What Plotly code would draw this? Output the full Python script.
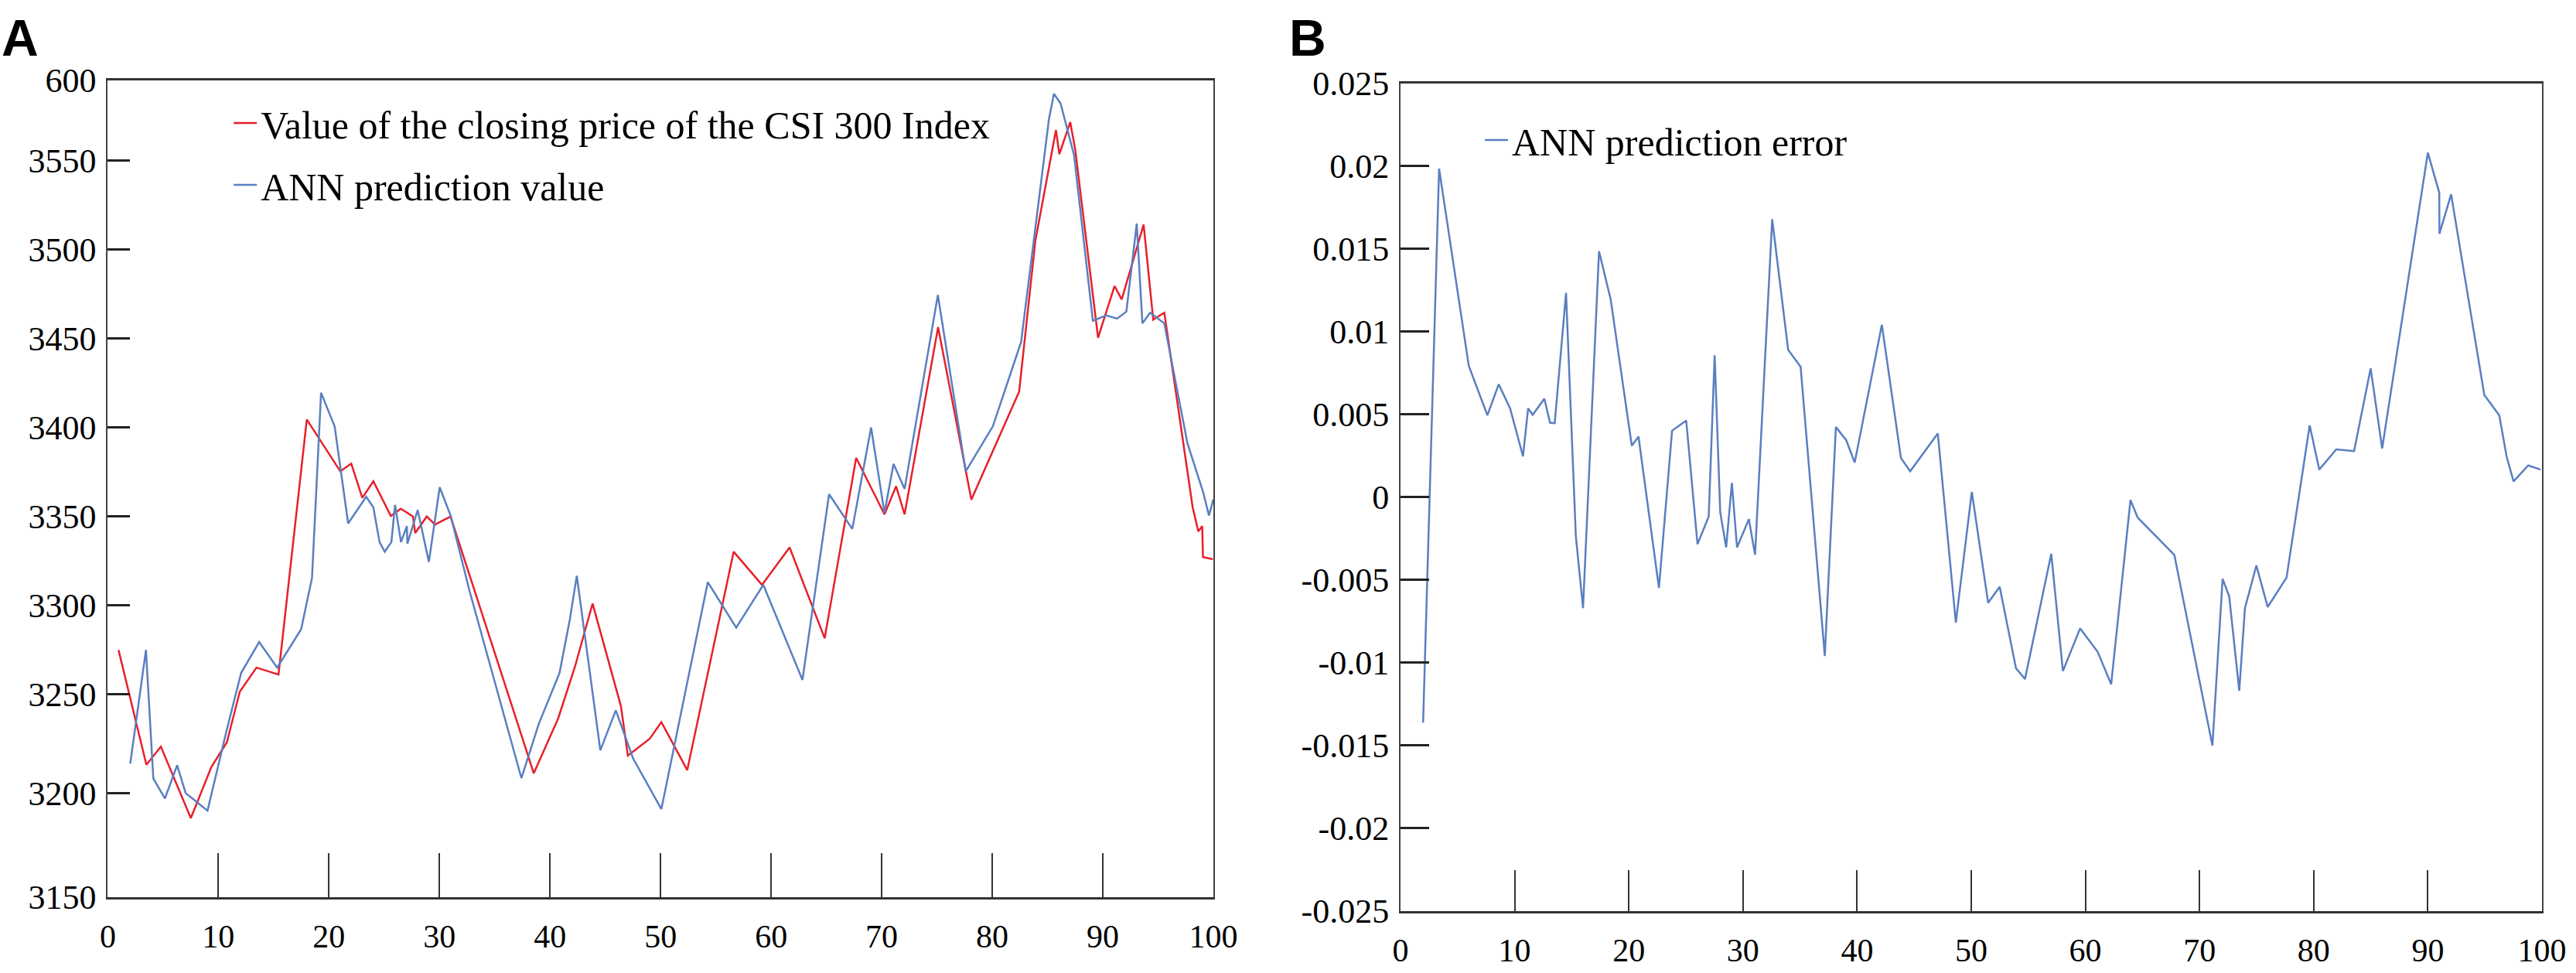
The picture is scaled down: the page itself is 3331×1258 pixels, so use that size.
import plotly.graph_objects as go

# panel A: closing price of the CSI 300 index and the ANN prediction
x_actual = [0.97, 3.49, 4.80, 7.51, 9.37, 10.77, 11.94, 13.45, 15.44, 18.0, 21.03, 22.02, 23.02, 24.02,
            25.6, 26.5, 27.6, 27.8, 28.85, 29.6, 31.0, 38.53, 40.74, 42.26, 43.85, 46.41, 47.04, 49.03,
            50.07, 52.41, 56.61, 59.17, 61.67, 64.84, 67.69, 70.25, 71.30, 72.07, 75.10, 78.11, 82.43,
            83.90, 85.76, 86.07, 87.05, 87.51, 89.57, 91.06, 91.71, 93.69, 94.56, 95.56, 98.13, 98.64,
            98.99, 99.06, 99.95]
y_actual = [3275.0, 3210.5, 3220.7, 3180.5, 3209.3, 3223.1, 3251.6, 3265.1, 3261.2, 3404.5, 3375.4, 3379.7,
            3360.5, 3369.8, 3350.3, 3354.4, 3350.0, 3340.7, 3350.0, 3345.5, 3350.0, 3205.7, 3236.6, 3265.7,
            3301.1, 3243.5, 3215.6, 3225.2, 3234.5, 3207.5, 3330.2, 3311.6, 3332.6, 3281.6, 3382.9, 3351.2,
            3367.0, 3351.2, 3456.4, 3359.5, 3420.1, 3505.0, 3567.1, 3553.6, 3571.6, 3556.0, 3450.4, 3479.5,
            3472.0, 3514.0, 3460.6, 3464.5, 3355.0, 3341.6, 3344.6, 3327.2, 3326.0]

x_pred = [2.03, 3.45, 4.12, 5.17, 6.27, 7.04, 9.02, 10.66, 12.06, 13.69, 15.32, 17.49, 18.47, 19.29, 20.52,
          21.74, 23.37, 24.02, 24.58, 25.05, 25.65, 25.98, 26.52, 27.05, 27.1, 28.03, 29.04, 30.02, 31.02,
          32.7, 37.41, 38.99, 40.86, 41.79, 42.42, 44.55, 45.95, 47.51, 50.07, 54.27, 56.84, 59.29, 62.83,
          65.24, 67.34, 69.04, 70.25, 71.07, 72.07, 75.08, 77.60, 80.05, 82.61, 85.13, 85.58, 86.18, 87.40,
          88.21, 89.10, 90.31, 91.29, 92.13, 93.07, 93.58, 94.28, 95.56, 97.66, 99.06, 99.6, 100.0]
y_pred = [3211.1, 3275.0, 3202.7, 3191.6, 3210.2, 3194.6, 3184.7, 3227.6, 3262.1, 3279.5, 3265.1, 3286.7,
          3315.5, 3419.5, 3400.6, 3346.1, 3361.1, 3355.1, 3335.6, 3330.2, 3335.6, 3356.5, 3335.6, 3344.6,
          3334.7, 3353.6, 3324.5, 3366.4, 3350.3, 3308.6, 3203.0, 3233.6, 3262.1, 3292.1, 3316.7, 3218.6,
          3241.1, 3214.1, 3185.6, 3313.1, 3287.6, 3311.6, 3258.2, 3362.5, 3343.0, 3400.0, 3352.0, 3379.6,
          3365.5, 3474.4, 3375.4, 3400.6, 3448.0, 3573.4, 3587.5, 3582.1, 3553.0, 3508.0, 3460.0, 3463.0,
          3461.2, 3465.1, 3514.6, 3458.5, 3464.5, 3458.5, 3391.0, 3364.0, 3350.6, 3359.6]

# panel B: ANN prediction error
x_err = [1.98, 3.38, 5.98, 7.61, 8.60, 9.60, 10.73, 11.18, 11.58, 12.60, 13.10, 13.51, 14.50, 15.36, 15.99,
         17.39, 18.41, 20.26, 20.85, 22.64, 23.79, 25.03, 26.02, 27.00, 27.52, 28.01, 28.53, 29.03, 29.48,
         30.52, 31.06, 32.56, 33.96, 35.05, 37.17, 38.14, 39.05, 39.79, 42.17, 43.84, 44.65, 47.07, 48.65,
         50.05, 51.48, 52.49, 53.92, 54.71, 57.01, 58.03, 59.54, 61.08, 62.26, 63.95, 64.58, 67.79, 71.13,
         72.02, 72.60, 73.48, 73.98, 74.98, 75.97, 77.62, 79.65, 80.49, 81.98, 83.54, 84.99, 86.00, 90.00,
         91.00, 91.02, 92.04, 94.95, 96.26, 96.90, 97.51, 98.80, 99.88]
y_err = [-0.01363, 0.01984, 0.00793, 0.00494, 0.00681, 0.00536, 0.00246, 0.00536, 0.00497, 0.00594, 0.00449,
         0.00446, 0.01234, -0.00236, -0.00671, 0.01485, 0.01195, 0.00310, 0.00365, -0.00549, 0.00401, 0.00462,
         -0.00285, -0.00117, 0.00857, -0.00092, -0.00304, 0.00085, -0.00304, -0.00134, -0.00349, 0.01678,
         0.00890, 0.00787, -0.00960, 0.00423, 0.00343, 0.00208, 0.01041, 0.00236, 0.00156, 0.00384, -0.00758,
         0.00031, -0.00639, -0.00542, -0.01034, -0.01099, -0.00343, -0.01051, -0.00793, -0.00935, -0.01131,
         -0.00018, -0.00124, -0.00349, -0.01501, -0.00494, -0.00600, -0.01170, -0.00671, -0.00413, -0.00664,
         -0.00487, 0.00433, 0.00166, 0.00288, 0.00278, 0.00777, 0.00294, 0.02080, 0.01839, 0.01591, 0.01829,
         0.00616, 0.00494, 0.00246, 0.00095, 0.00191, 0.00166]

x_ticks = [0, 10, 20, 30, 40, 50, 60, 70, 80, 90, 100]
# the original y axis of panel A is not evenly spaced at its ends
ya_tickvals = [3136.2, 3194.6, 3250, 3300, 3350, 3400, 3450, 3500, 3550, 3595.2]
ya_ticktext = ["3150", "3200", "3250", "3300", "3350", "3400", "3450", "3500", "3550", "600"]
yb_tickvals = [-0.025, -0.02, -0.015, -0.01, -0.005, 0, 0.005, 0.01, 0.015, 0.02, 0.025]
yb_ticktext = ["-0.025", "-0.02", "-0.015", "-0.01", "-0.005", "0", "0.005", "0.01", "0.015", "0.02", "0.025"]

serif = "Liberation Serif"
red = "#e8202a"
blue = "#5a7fc0"

fig = go.Figure()
fig.add_trace(go.Scatter(x=x_actual, y=y_actual, mode="lines", name="Value of the closing price of the CSI 300 Index",
                         line=dict(color=red, width=2.5), legendgroup="a1", xaxis="x", yaxis="y"))
fig.add_trace(go.Scatter(x=x_pred, y=y_pred, mode="lines", name="ANN prediction value",
                         line=dict(color=blue, width=2.5), legendgroup="a2", xaxis="x", yaxis="y"))
fig.add_trace(go.Scatter(x=x_err, y=y_err, mode="lines", name="ANN prediction error",
                         line=dict(color=blue, width=2.5), legend="legend2", xaxis="x2", yaxis="y2"))

xstyle = dict(range=[0, 100], tickvals=x_ticks, ticks="inside", tickwidth=2, tickcolor="#333",
              showline=True, linewidth=3, linecolor="#333", mirror=True, showgrid=False, zeroline=False,
              automargin=False, tickfont=dict(family=serif, size=42, color="black"), ticklabelstandoff=12)
ystyle = dict(ticks="inside", tickwidth=3, tickcolor="#222", showline=True, linewidth=2, linecolor="#444",
              mirror=True, showgrid=False, zeroline=False, automargin=False,
              tickfont=dict(family=serif, size=44, color="black"), ticklabelstandoff=4)

fig.update_layout(
    width=3331, height=1258,
    margin=dict(l=0, r=0, t=0, b=0),
    paper_bgcolor="white", plot_bgcolor="white",
    xaxis=dict(xstyle, domain=[0.04185, 0.47103], ticklen=57, anchor="y"),
    yaxis=dict(ystyle, domain=[0.0781, 0.9177], range=[3136.2, 3595.2], tickvals=ya_tickvals,
               ticktext=ya_ticktext, ticklen=29, anchor="x"),
    xaxis2=dict(xstyle, domain=[0.54368, 0.98679], ticklen=53, anchor="y2"),
    yaxis2=dict(ystyle, domain=[0.0638, 0.9145], range=[-0.025, 0.025], tickvals=yb_tickvals,
                ticktext=yb_ticktext, ticklen=37, anchor="x2"),
    legend=dict(x=0.0892, y=0.9046, xanchor="left", yanchor="top", bgcolor="rgba(0,0,0,0)",
                font=dict(family=serif, size=50, color="black"), tracegroupgap=12),
    legend2=dict(x=0.5749, y=0.8871, xanchor="left", yanchor="top", bgcolor="rgba(0,0,0,0)",
                 font=dict(family=serif, size=50, color="black")),
    annotations=[
        dict(text="<b>A</b>", x=0, y=0.992, xref="paper", yref="paper", xanchor="left", yanchor="top",
             showarrow=False, font=dict(family="Liberation Sans", size=66, color="black")),
        dict(text="<b>B</b>", x=0.4999, y=0.992, xref="paper", yref="paper", xanchor="left", yanchor="top",
             showarrow=False, font=dict(family="Liberation Sans", size=66, color="black")),
    ],
)

# no page margin, so the figure fills the window exactly
fig.write_html("out.html", config={"displayModeBar": False},
               post_script="document.body.style.margin = '0';")
